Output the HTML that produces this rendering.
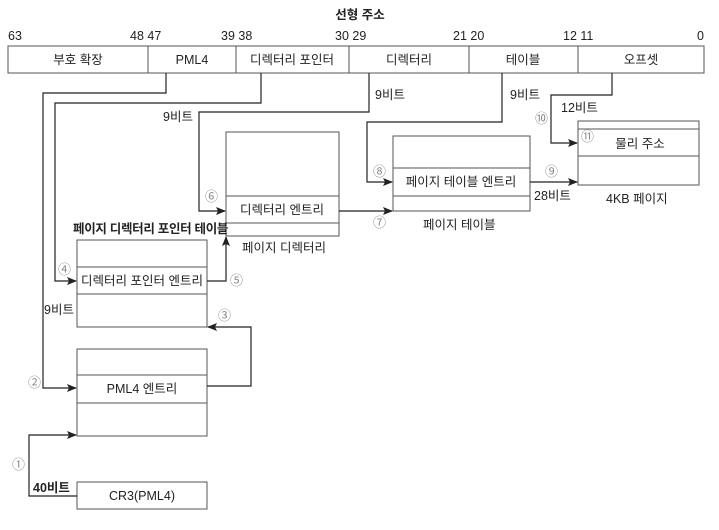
<!DOCTYPE html>
<html><head><meta charset="utf-8"><style>
html,body{margin:0;padding:0;background:#fff;}
text{font-family:"Liberation Sans","Noto Sans CJK KR",sans-serif;font-size:12.5px;fill:#222;}
.c{fill:#888;font-size:13px;}
.b{font-weight:bold;}
</style></head><body>
<svg width="719" height="525" viewBox="0 0 719 525" xmlns="http://www.w3.org/2000/svg">
<defs><marker id="a" markerWidth="10" markerHeight="8" refX="9" refY="4" orient="auto" markerUnits="userSpaceOnUse"><path d="M0,0 L10,4 L0,8 L2,4 z" fill="#222"/></marker></defs>
<text x="360" y="19" text-anchor="middle" class="b" font-size="13">선형 주소</text>
<g font-size="12">
<text x="8" y="40">63</text><text x="130" y="40">48 47</text><text x="221" y="40">39 38</text>
<text x="335" y="40">30 29</text><text x="453" y="40">21 20</text><text x="563" y="40">12 11</text><text x="697" y="40">0</text>
</g>
<g fill="none" stroke="#555" stroke-width="1">
<rect x="8" y="46" width="696" height="27"/>
<path d="M148,46V73M236,46V73M349,46V73M469,46V73M578,46V73"/>
<rect x="226" y="132" width="113" height="104"/><path d="M226,196H339M226,223H339"/>
<rect x="393" y="136" width="137" height="75"/><path d="M393,168H530M393,196H530"/>
<rect x="578" y="121" width="121" height="64"/><path d="M578,129H699M578,156H699"/>
<rect x="77" y="240" width="130" height="87"/><path d="M77,267H207M77,294H207"/>
<rect x="77" y="349" width="130" height="87"/><path d="M77,375H207M77,403H207"/>
<rect x="77" y="482" width="130" height="27"/>
</g>
<g fill="none" stroke="#222" stroke-width="1.2">
<path d="M166,73V93H43V388H76" marker-end="url(#a)"/>
<path d="M261,73V103H55V281H76" marker-end="url(#a)"/>
<path d="M369,73V112H199V211H225" marker-end="url(#a)"/>
<path d="M502,73V122H367V182H392" marker-end="url(#a)"/>
<path d="M612,73V95H551V143H577" marker-end="url(#a)"/>
<path d="M77,496H29V435H76" marker-end="url(#a)"/>
<path d="M207,386H251V327H208" marker-end="url(#a)"/>
<path d="M207,281H226V237" marker-end="url(#a)"/>
<path d="M339,211H392" marker-end="url(#a)"/>
<path d="M530,182H577" marker-end="url(#a)"/>
</g>
<text x="78" y="64" text-anchor="middle">부호 확장</text>
<text x="192" y="64" text-anchor="middle">PML4</text>
<text x="292" y="64" text-anchor="middle">디렉터리 포인터</text>
<text x="409" y="64" text-anchor="middle">디렉터리</text>
<text x="523" y="64" text-anchor="middle">테이블</text>
<text x="641" y="64" text-anchor="middle">오프셋</text>
<text x="282" y="214" text-anchor="middle">디렉터리 엔트리</text>
<text x="461" y="186" text-anchor="middle">페이지 테이블 엔트리</text>
<text x="640" y="148" text-anchor="middle">물리 주소</text>
<text x="142" y="285" text-anchor="middle">디렉터리 포인터 엔트리</text>
<text x="142" y="393" text-anchor="middle">PML4 엔트리</text>
<text x="142" y="500" text-anchor="middle">CR3(PML4)</text>
<text x="163" y="121">9비트</text>
<text x="375" y="99">9비트</text>
<text x="510" y="99">9비트</text>
<text x="561" y="112">12비트</text>
<text x="44" y="314">9비트</text>
<text x="33" y="492" class="b">40비트</text>
<text x="534" y="200">28비트</text>
<text x="73" y="233" class="b" font-size="11.5" letter-spacing="-0.3">페이지 디렉터리 포인터 테이블</text>
<text x="242" y="252">페이지 디렉터리</text>
<text x="423" y="229">페이지 테이블</text>
<text x="606" y="203">4KB 페이지</text>
<text x="205" y="201" class="c">⑥</text>
<text x="373" y="176" class="c">⑧</text>
<text x="373" y="227" class="c">⑦</text>
<text x="545" y="176" class="c">⑨</text>
<text x="535" y="123" class="c">⑩</text>
<text x="581" y="141" class="c">⑪</text>
<text x="58" y="274" class="c">④</text>
<text x="230" y="285" class="c">⑤</text>
<text x="218" y="320" class="c">③</text>
<text x="28" y="387" class="c">②</text>
<text x="12" y="469" class="c">①</text>
</svg>
</body></html>
